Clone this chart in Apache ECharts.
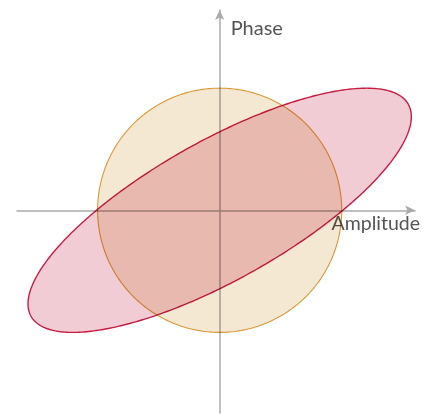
<!DOCTYPE html>
<html>
<head>
<meta charset="utf-8">
<script src="https://cdn.jsdelivr.net/npm/echarts@6/dist/echarts.min.js"></script>
<style>
  html, body { margin: 0; padding: 0; background: #fff; }
  #chart { width: 435px; height: 414px; }
</style>
</head>
<body>
<div id="chart"></div>
<script>
// two shapes, each one a Lissajous figure: x = ax*sin(t), y = ay*sin(t + phase)
const shapeNames = ['circle', 'ellipse'];
const ampX = [1, 1.57];
const ampY = [1, 1];
const phaseDeg = [90, 40];
const fills = ['#f5e8d3', '#f2ccd4'];
const strokes = ['#dfa03c', '#cc1f47'];

const chart = echarts.init(document.getElementById('chart'));

// turn one shape into a closed polygon in pixel space
function renderShape(params, api) {
  const ax = api.value(0);
  const ay = api.value(1);
  const ph = api.value(2) * Math.PI / 180;
  const pts = [];
  for (let i = 0; i < 360; i++) {
    const t = i * Math.PI / 180;
    pts.push(api.coord([ax * Math.sin(t), ay * Math.sin(t + ph)]));
  }
  const i = params.dataIndex;
  return {
    type: 'polygon',
    shape: { points: pts },
    style: {
      fill: fills[i],
      stroke: strokes[i],
      lineWidth: i === 1 ? 1.4 : 1.1
    }
  };
}

const option = {
  animation: false,
  grid: { left: 17, right: 20, top: 10, bottom: 1 },
  xAxis: {
    type: 'value',
    min: -1.66,
    max: 1.6,
    name: 'Amplitude',
    nameLocation: 'end',
    nameGap: 5,
    nameTextStyle: {
      fontFamily: 'Lato',
      fontSize: 19.5,
      color: '#555',
      align: 'right',
      verticalAlign: 'top',
      padding: [3, 0, 0, 0]
    },
    axisLine: {
      onZero: true,
      symbol: ['none', 'arrow'],
      symbolSize: [7, 10],
      lineStyle: { color: '#aaa', width: 1.5 }
    },
    axisTick: { show: false },
    axisLabel: { show: false },
    splitLine: { show: false }
  },
  yAxis: {
    type: 'value',
    min: -1.66,
    max: 1.64,
    name: 'Phase',
    nameLocation: 'end',
    nameGap: -9,
    nameTextStyle: {
      fontFamily: 'Lato',
      fontSize: 20,
      color: '#555',
      align: 'left',
      verticalAlign: 'top',
      padding: [0, 0, 0, 11]
    },
    axisLine: {
      onZero: true,
      symbol: ['none', 'arrow'],
      symbolSize: [7, 10],
      lineStyle: { color: '#aaa', width: 1.5 }
    },
    axisTick: { show: false },
    axisLabel: { show: false },
    splitLine: { show: false }
  },
  series: [{
    type: 'custom',
    z: 5,
    blendMode: 'multiply',
    renderItem: renderShape,
    data: shapeNames.map((n, i) => ({ name: n, value: [ampX[i], ampY[i], phaseDeg[i]] }))
  }]
};
chart.setOption(option);
</script>
</body>
</html>
